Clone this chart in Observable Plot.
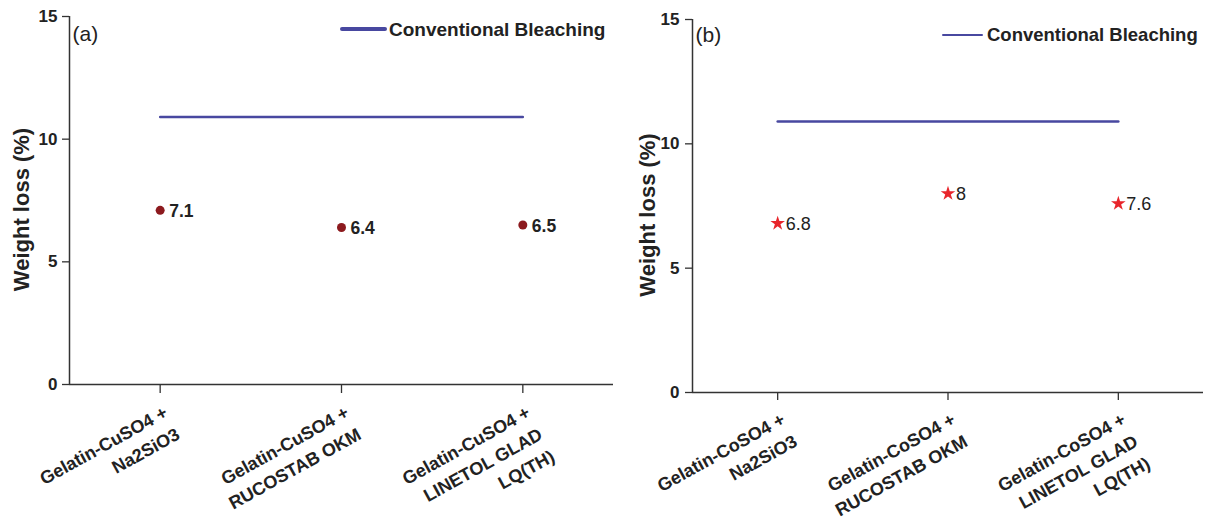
<!DOCTYPE html>
<html><head><meta charset="utf-8">
<script src="https://cdn.jsdelivr.net/npm/d3@7"></script>
<script src="https://cdn.jsdelivr.net/npm/@observablehq/plot@0.6"></script>
<style>
body{margin:0;background:#fff;font-family:"Liberation Sans",Arial,sans-serif;}
#wrap{position:relative;width:1208px;height:523px;overflow:hidden;}
.panel{position:absolute;top:0;}
.legline{position:absolute;background:#4848a0;}
.legtext{position:absolute;font-weight:bold;color:#222;white-space:nowrap;line-height:1;}
</style></head><body><div id="wrap"></div>
<script>
// ---- data ----
const categoriesA = ["Gelatin-CuSO4 +\nNa2SiO3", "Gelatin-CuSO4 +\nRUCOSTAB OKM", "Gelatin-CuSO4 +\nLINETOL GLAD\nLQ(TH)"];
const valuesA = [7.1, 6.4, 6.5];
const conventionalA = 10.9;
const categoriesB = ["Gelatin-CoSO4 +\nNa2SiO3", "Gelatin-CoSO4 +\nRUCOSTAB OKM", "Gelatin-CoSO4 +\nLINETOL GLAD\nLQ(TH)"];
const valuesB = [6.8, 8, 7.6];
const conventionalB = 10.9;
const yTicks = [0, 5, 10, 15];
const yDomain = [0, 15];
const yLabel = "Weight loss (%)";
const legendLabel = "Conventional Bleaching";
const panelTags = ["(a)", "(b)"];

const FONT = "'Liberation Sans', Arial, sans-serif";
const LINE = "#4848a0";

function panel(o) {
  const rows = o.cats.map((c, i) => ({i, c, v: o.vals[i]}));
  return Plot.plot({
    width: o.width, height: 523,
    marginLeft: o.ml, marginTop: o.mt, marginBottom: o.mb, marginRight: o.mr,
    style: {fontFamily: FONT, background: "none", color: "#333", overflow: "visible"},
    x: {domain: [-0.5, o.cats.length - 0.5]},
    y: {domain: yDomain},
    marks: [
      Plot.axisY({ticks: yTicks, tickSize: 7, tickPadding: o.ytp, fontSize: 17, fontWeight: "bold", fill: "#222", label: null, strokeWidth: 1.3}),
      Plot.axisX({ticks: d3.range(o.cats.length), tickFormat: i => o.cats[i], tickRotate: -29, tickSize: o.xts, tickPadding: 7,
        fontSize: 18, fontWeight: "bold", fill: "#222", lineHeight: 1.4, textAnchor: "end", lineAnchor: "top", label: null, strokeWidth: 1.3}),
      Plot.ruleX([-0.5], {stroke: "#333", strokeWidth: 1.5}),
      Plot.ruleY([0], {stroke: "#333", strokeWidth: 1.5}),
      Plot.lineY(rows, {x: "i", y: () => o.conv, stroke: LINE, strokeWidth: 2.5}),
      Plot.dot(rows, {x: "i", y: "v", symbol: o.symbol, r: o.r, fill: o.fill, stroke: "none"}),
      Plot.text(rows, {x: "i", y: "v", text: d => String(d.v), dx: o.ldx, dy: 1, textAnchor: "start",
        fontSize: o.lfs, fontWeight: o.lfw, fill: "#222"}),
      Plot.text([o.tag], {frameAnchor: "top-left", textAnchor: "start", lineAnchor: "middle", dx: 3, dy: o.tagdy, fontSize: 21, fill: "#222"}),
      Plot.text([yLabel], {frameAnchor: "left", textAnchor: "middle", lineAnchor: "middle", rotate: -90, dx: o.ydx, dy: 9,
        fontSize: 22, fontWeight: "bold", fill: "#222"})
    ]
  });
}

const wrap = document.getElementById("wrap");
const a = panel({cats: categoriesA, vals: valuesA, conv: conventionalA, width: 620, ml: 69, mt: 16, mb: 139, mr: 7,
  ytp: 5, xts: 9, symbol: "circle", r: 4.5, fill: "#8c1a1e", ldx: 9, lfs: 17.5, lfw: "bold", tag: panelTags[0], tagdy: 18, ydx: -48});
a.classList.add("panel"); a.style.left = "0px";
const b = panel({cats: categoriesB, vals: valuesB, conv: conventionalB, width: 588, ml: 72, mt: 19, mb: 131, mr: 5,
  ytp: 6, xts: 8, symbol: "star", r: 4.6, fill: "#e8252b", ldx: 8, lfs: 18, lfw: "normal", tag: panelTags[1], tagdy: 16, ydx: -45});
b.classList.add("panel"); b.style.left = "620px";
wrap.appendChild(a); wrap.appendChild(b);

function legend(x1, x2, y, th, tx, fs) {
  const l = document.createElement("div");
  l.className = "legline";
  l.style.left = x1 + "px"; l.style.width = (x2 - x1) + "px";
  l.style.top = (y - th / 2) + "px"; l.style.height = th + "px"; l.style.borderRadius = (th / 2) + "px";
  wrap.appendChild(l);
  const t = document.createElement("div");
  t.className = "legtext";
  t.textContent = legendLabel;
  t.style.left = tx + "px"; t.style.top = (y - fs * 0.5) + "px"; t.style.fontSize = fs + "px";
  wrap.appendChild(t);
}
legend(340, 387, 29, 4, 389, 19);
legend(942, 983, 35, 2.5, 987, 18.5);
</script></body></html>
